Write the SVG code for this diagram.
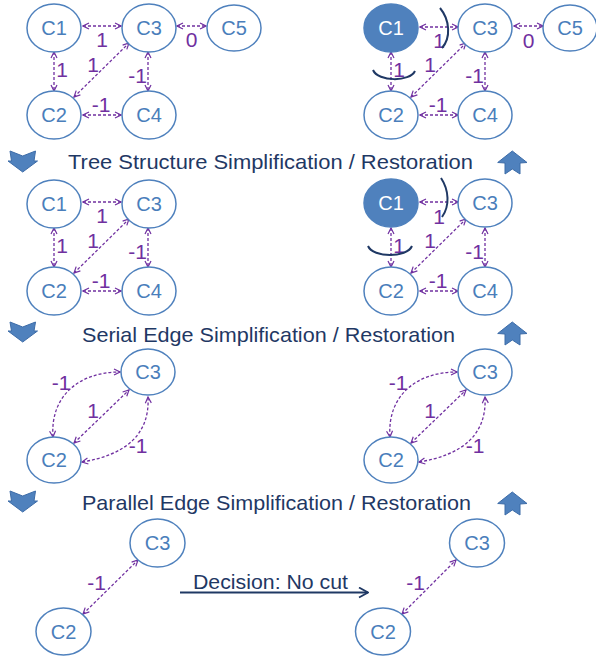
<svg xmlns="http://www.w3.org/2000/svg" width="596" height="656" viewBox="0 0 596 656">
<defs>
<style>
.nd{fill:#fff;stroke:#4f81bd;stroke-width:1.5}
.ndf{fill:#4f81bd;stroke:#4f81bd;stroke-width:1.5}
.nt{font-family:"Liberation Sans",Arial,sans-serif;font-size:20px;fill:#4a7ebb;text-anchor:middle}
.ntf{font-family:"Liberation Sans",Arial,sans-serif;font-size:20px;fill:#fff;text-anchor:middle}
.e{fill:none;stroke:#7030a0;stroke-width:1.3;stroke-dasharray:3 2;marker-start:url(#ah);marker-end:url(#ah)}
.el{font-family:"Liberation Sans",Arial,sans-serif;font-size:21px;fill:#7030a0;text-anchor:middle}
.hd{font-family:"Liberation Sans",Arial,sans-serif;font-size:21px;fill:#1f3864}
.cut{fill:none;stroke:#1f3864;stroke-width:2}
.blk{fill:#4f81bd;stroke:#3d6ca8;stroke-width:1}
</style>
<marker id="ah" viewBox="0 0 8 8" refX="7" refY="4" markerWidth="8" markerHeight="8" markerUnits="userSpaceOnUse" orient="auto-start-reverse">
<path d="M1,1 L7,4 L1,7" fill="none" stroke="#7030a0" stroke-width="1.2"/>
</marker>
<marker id="nah" viewBox="0 0 12 12" refX="11" refY="6" markerWidth="12" markerHeight="12" markerUnits="userSpaceOnUse" orient="auto">
<path d="M2,1 L11,6 L2,11" fill="none" stroke="#1f3864" stroke-width="1.8"/>
</marker>
</defs>
<rect width="596" height="656" fill="#fff"/>

<g id="headings">
<text class="hd" x="68" y="169" textLength="405" lengthAdjust="spacingAndGlyphs">Tree Structure Simplification / Restoration</text>
<text class="hd" x="82" y="342" textLength="373" lengthAdjust="spacingAndGlyphs">Serial Edge Simplification / Restoration</text>
<text class="hd" x="82" y="510" textLength="389" lengthAdjust="spacingAndGlyphs">Parallel Edge Simplification / Restoration</text>
</g>

<g id="block-arrows">
<path class="blk" d="M10,151 L22.7,156 L35.5,151 L34,161 L37.5,161 L22.7,172 L8,161 L11.5,161 Z"/>
<path class="blk" d="M10,322 L22.7,327 L35.5,322 L34,331 L37.5,331 L22.7,342 L8,331 L11.5,331 Z"/>
<path class="blk" d="M10,491 L22.7,496 L35.5,491 L34,501 L37.5,501 L22.7,512 L8,501 L11.5,501 Z"/>
<path class="blk" d="M512.3,151 L527,162.5 L520,163 L520,174 L512.3,169 L505,174 L505,163 L497.7,162.5 Z"/>
<path class="blk" d="M512.3,322 L527,333.5 L520,334 L520,345 L512.3,340 L505,345 L505,334 L497.7,333.5 Z"/>
<path class="blk" d="M512.3,492 L527,503.5 L520,504 L520,515 L512.3,510 L505,515 L505,504 L497.7,503.5 Z"/>
</g>

<g id="connectors">
<line class="e" x1="83" y1="26" x2="121" y2="26"/>
<line class="e" x1="177" y1="26" x2="206" y2="26"/>
<line class="e" x1="54" y1="52" x2="54" y2="91"/>
<line class="e" x1="148" y1="52" x2="148" y2="91"/>
<line class="e" x1="83" y1="115" x2="121" y2="115"/>
<line class="e" x1="74" y1="97" x2="129" y2="43"/>
<line class="e" x1="420" y1="27" x2="458" y2="27"/>
<line class="e" x1="514" y1="26" x2="543" y2="26"/>
<line class="e" x1="391" y1="52" x2="391" y2="91"/>
<line class="e" x1="485" y1="52" x2="485" y2="91"/>
<line class="e" x1="420" y1="115" x2="458" y2="115"/>
<line class="e" x1="411" y1="97" x2="466" y2="43"/>
<line class="e" x1="83" y1="202" x2="121" y2="202"/>
<line class="e" x1="54" y1="228" x2="54" y2="267"/>
<line class="e" x1="148" y1="228" x2="148" y2="267"/>
<line class="e" x1="83" y1="291" x2="121" y2="291"/>
<line class="e" x1="74" y1="273" x2="129" y2="219"/>
<line class="e" x1="420" y1="202" x2="458" y2="202"/>
<line class="e" x1="391" y1="228" x2="391" y2="267"/>
<line class="e" x1="485" y1="228" x2="485" y2="267"/>
<line class="e" x1="420" y1="291" x2="458" y2="291"/>
<line class="e" x1="411" y1="273" x2="466" y2="219"/>
<path class="e" d="M53,437 C50,397 78,372 120,372"/>
<line class="e" x1="74" y1="443" x2="129" y2="390"/>
<path class="e" d="M82,462 C125,455 150,435 148,397"/>
<path class="e" d="M390,437 C387,397 415,372 457,372"/>
<line class="e" x1="411" y1="443" x2="466" y2="390"/>
<path class="e" d="M419,462 C462,455 487,435 485,397"/>
<line class="e" x1="83" y1="614" x2="138" y2="560"/>
<line class="e" x1="402" y1="614" x2="456" y2="560"/>
<line x1="180" y1="592.5" x2="368" y2="592.5" stroke="#1f3864" stroke-width="1.8" marker-end="url(#nah)"/>
</g>

<g id="edge-labels">
<text class="el" x="102" y="47">1</text>
<text class="el" x="191.5" y="47">0</text>
<text class="el" x="62" y="77">1</text>
<text class="el" x="93" y="72">1</text>
<text class="el" x="137.5" y="83">-1</text>
<text class="el" x="101" y="112">-1</text>

<text class="el" x="439" y="48">1</text>
<text class="el" x="528.5" y="48">0</text>
<text class="el" x="399" y="77">1</text>
<text class="el" x="430" y="72">1</text>
<text class="el" x="474.5" y="83">-1</text>
<text class="el" x="438" y="112">-1</text>

<text class="el" x="102" y="223">1</text>
<text class="el" x="62" y="253">1</text>
<text class="el" x="93" y="248">1</text>
<text class="el" x="137.5" y="259">-1</text>
<text class="el" x="101" y="288">-1</text>

<text class="el" x="439" y="224">1</text>
<text class="el" x="399" y="253">1</text>
<text class="el" x="430" y="248">1</text>
<text class="el" x="474.5" y="259">-1</text>
<text class="el" x="438" y="288">-1</text>

<text class="el" x="61" y="390">-1</text>
<text class="el" x="93" y="418">1</text>
<text class="el" x="138" y="453">-1</text>
<text class="el" x="398" y="390">-1</text>
<text class="el" x="430" y="418">1</text>
<text class="el" x="475" y="453">-1</text>

<text class="el" x="96.5" y="590">-1</text>
<text class="el" x="415.5" y="590">-1</text>

<text class="hd" x="193" y="589" textLength="155" lengthAdjust="spacingAndGlyphs">Decision: No cut</text>
</g>

<g id="cut-marks">
<path class="cut" d="M440,8 C450,20 451,38 442,48"/>
<path class="cut" d="M373,70 C378,82 410,82 415,71"/>
<path class="cut" d="M441,178 C449,190 450,206 442,217"/>
<path class="cut" d="M368,246 C373,258 407,258 412,246"/>
</g>

<g id="p1-C1"><ellipse class="nd" cx="54" cy="28" rx="27" ry="24"/><text class="nt" x="54" y="35">C1</text></g>
<g id="p1-C3"><ellipse class="nd" cx="149" cy="28" rx="27" ry="24"/><text class="nt" x="149" y="35">C3</text></g>
<g id="p1-C5"><ellipse class="nd" cx="234" cy="28" rx="27" ry="23"/><text class="nt" x="234" y="35">C5</text></g>
<g id="p1-C2"><ellipse class="nd" cx="54" cy="115" rx="27" ry="24"/><text class="nt" x="54" y="122">C2</text></g>
<g id="p1-C4"><ellipse class="nd" cx="149" cy="115" rx="27" ry="24"/><text class="nt" x="149" y="122">C4</text></g>

<g id="p2-C1"><ellipse class="ndf" cx="391" cy="28" rx="27" ry="24"/><text class="ntf" x="391" y="35">C1</text></g>
<g id="p2-C3"><ellipse class="nd" cx="485" cy="28" rx="27" ry="24"/><text class="nt" x="485" y="35">C3</text></g>
<g id="p2-C5"><ellipse class="nd" cx="570" cy="28" rx="27" ry="23"/><text class="nt" x="570" y="35">C5</text></g>
<g id="p2-C2"><ellipse class="nd" cx="391" cy="115" rx="27" ry="24"/><text class="nt" x="391" y="122">C2</text></g>
<g id="p2-C4"><ellipse class="nd" cx="485" cy="115" rx="27" ry="24"/><text class="nt" x="485" y="122">C4</text></g>

<g id="p3-C1"><ellipse class="nd" cx="54" cy="204" rx="27" ry="24"/><text class="nt" x="54" y="211">C1</text></g>
<g id="p3-C3"><ellipse class="nd" cx="149" cy="204" rx="27" ry="24"/><text class="nt" x="149" y="211">C3</text></g>
<g id="p3-C2"><ellipse class="nd" cx="54" cy="291" rx="27" ry="24"/><text class="nt" x="54" y="298">C2</text></g>
<g id="p3-C4"><ellipse class="nd" cx="149" cy="291" rx="27" ry="24"/><text class="nt" x="149" y="298">C4</text></g>

<g id="p4-C1"><ellipse class="ndf" cx="391" cy="203" rx="27" ry="24"/><text class="ntf" x="391" y="210">C1</text></g>
<g id="p4-C3"><ellipse class="nd" cx="485" cy="203" rx="27" ry="24"/><text class="nt" x="485" y="210">C3</text></g>
<g id="p4-C2"><ellipse class="nd" cx="391" cy="291" rx="27" ry="24"/><text class="nt" x="391" y="298">C2</text></g>
<g id="p4-C4"><ellipse class="nd" cx="485" cy="291" rx="27" ry="24"/><text class="nt" x="485" y="298">C4</text></g>

<g id="p5-C3"><ellipse class="nd" cx="148" cy="372" rx="27" ry="23"/><text class="nt" x="148" y="379">C3</text></g>
<g id="p5-C2"><ellipse class="nd" cx="54" cy="460" rx="27" ry="23"/><text class="nt" x="54" y="467">C2</text></g>
<g id="p6-C3"><ellipse class="nd" cx="485" cy="372" rx="27" ry="23"/><text class="nt" x="485" y="379">C3</text></g>
<g id="p6-C2"><ellipse class="nd" cx="391" cy="460" rx="27" ry="23"/><text class="nt" x="391" y="467">C2</text></g>

<g id="p7-C3"><ellipse class="nd" cx="157.5" cy="543" rx="27.5" ry="24"/><text class="nt" x="157.5" y="550">C3</text></g>
<g id="p7-C2"><ellipse class="nd" cx="63.5" cy="631.5" rx="27.5" ry="23.5"/><text class="nt" x="63.5" y="638.5">C2</text></g>
<g id="p8-C3"><ellipse class="nd" cx="477" cy="543" rx="27.5" ry="24"/><text class="nt" x="477" y="550">C3</text></g>
<g id="p8-C2"><ellipse class="nd" cx="383" cy="631.5" rx="27.5" ry="23.5"/><text class="nt" x="383" y="638.5">C2</text></g>
</svg>
